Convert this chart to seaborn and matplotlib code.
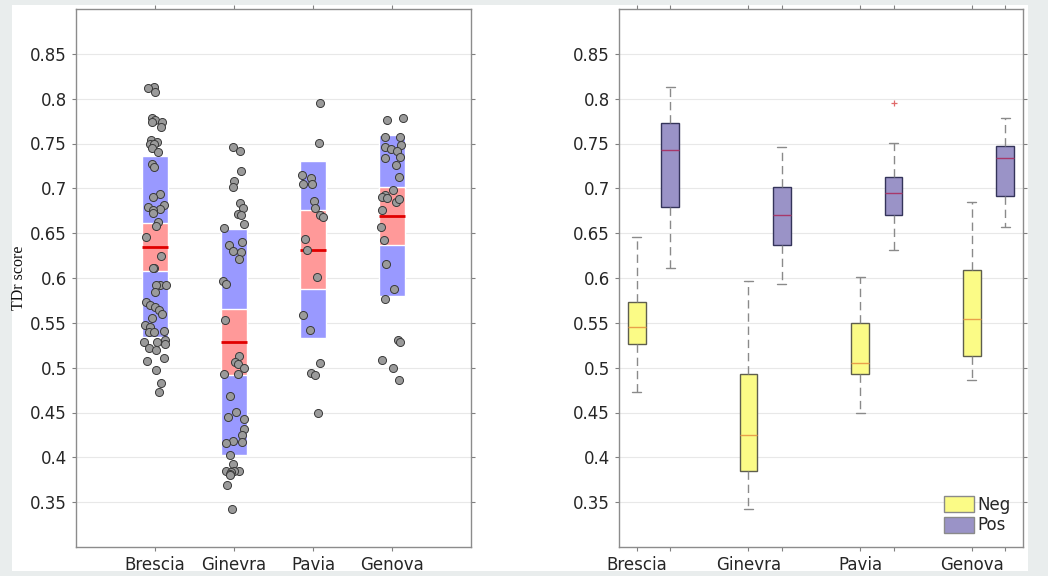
import numpy as np
import pandas as pd
import matplotlib
matplotlib.use("Agg")
import matplotlib.pyplot as plt
from matplotlib.patches import Rectangle, Patch
import seaborn as sns

# ---------------- data ----------------
cities = ["Brescia", "Ginevra", "Pavia", "Genova"]
groups = ["Neg", "Pos"]

brescia_pos = [0.8131, 0.8120, 0.8076, 0.7785, 0.7763, 0.7740, 0.7740, 0.7689, 0.7536,
               0.7520, 0.7495, 0.7495, 0.7450, 0.7406, 0.7268, 0.7242, 0.6940, 0.6903,
               0.6810, 0.6788, 0.6773, 0.6758, 0.6725, 0.6624, 0.6583, 0.6107]
brescia_neg = [0.6457, 0.6245, 0.6107, 0.5925, 0.5917, 0.5917, 0.5847, 0.5731, 0.5701,
               0.5682, 0.5645, 0.5604, 0.5556, 0.5481, 0.5448, 0.5411, 0.5396, 0.5396,
               0.5306, 0.5288, 0.5288, 0.5262, 0.5221, 0.5199, 0.5109, 0.5079, 0.4975,
               0.4826, 0.4733]
ginevra_pos = [0.7465, 0.7413, 0.7197, 0.7082, 0.7015, 0.6836, 0.6777, 0.6714, 0.6706,
               0.6602, 0.6561, 0.6401, 0.6364, 0.6300, 0.6293, 0.6211, 0.5936]
ginevra_neg = [0.5962, 0.5534, 0.5128, 0.5061, 0.5038, 0.4994, 0.4934, 0.4934, 0.4685,
               0.4503, 0.4455, 0.4425, 0.4317, 0.4246, 0.4183, 0.4168, 0.4157, 0.4026,
               0.3929, 0.3851, 0.3844, 0.3844, 0.3833, 0.3814, 0.3803, 0.3695, 0.3427]
pavia_pos = [0.7953, 0.7507, 0.7150, 0.7116, 0.7050, 0.7050, 0.6856, 0.6778, 0.6703,
             0.6684, 0.6435, 0.6309]
pavia_neg = [0.6007, 0.5583, 0.5419, 0.5055, 0.4936, 0.4921, 0.4500]
genova_pos = [0.7786, 0.7767, 0.7574, 0.7574, 0.7480, 0.7462, 0.7440, 0.7421, 0.7350,
              0.7339, 0.7265, 0.7131, 0.6986, 0.6922, 0.6905, 0.6893, 0.6885, 0.6759,
              0.6570]
genova_neg = [0.6844, 0.6428, 0.6160, 0.5877, 0.5769, 0.5312, 0.5282, 0.5081, 0.4996,
              0.4857]

y_ticks = [0.35, 0.40, 0.45, 0.50, 0.55, 0.60, 0.65, 0.70, 0.75, 0.80, 0.85]
y_label = "TDr score"

neg_values = [brescia_neg, ginevra_neg, pavia_neg, genova_neg]
pos_values = [brescia_pos, ginevra_pos, pavia_pos, genova_pos]

rows = []
for city, neg, pos in zip(cities, neg_values, pos_values):
    rows += [(city, "Neg", v) for v in neg]
    rows += [(city, "Pos", v) for v in pos]
df = pd.DataFrame(rows, columns=["city", "group", "score"])

# ---------------- styling ----------------
sns.set_style("white")
plt.rcParams["font.family"] = ["DejaVu Sans"]

NEG_COLOR = "#fbfb86"
POS_COLOR = "#9a93c7"
SD_COLOR = "#9999ff"
CI_COLOR = "#ff9999"

fig = plt.figure(figsize=(10.48, 5.76), dpi=100, facecolor="#e9eded")
fig.patches.append(Rectangle((12 / 1048, 5 / 576), 1016 / 1048, 566 / 576,
                             transform=fig.transFigure, facecolor="white",
                             edgecolor="none", zorder=-10))
ax1 = fig.add_axes([76 / 1048, 29 / 576, 395 / 1048, 538 / 576])
ax2 = fig.add_axes([619 / 1048, 29 / 576, 404 / 1048, 538 / 576])

# ---------------- left: notBoxPlot-like ----------------
stats = df.groupby("city", sort=False)["score"].agg(["mean", "std", "count"]).reindex(cities)
ci = 1.96 * stats["std"] / np.sqrt(stats["count"])
xpos = np.arange(len(cities))
bw = 0.33
ax1.bar(xpos, 2 * stats["std"], bottom=stats["mean"] - stats["std"], width=bw,
        color=SD_COLOR, zorder=1)
ax1.bar(xpos, 2 * ci, bottom=stats["mean"] - ci, width=bw, color=CI_COLOR, zorder=1.1)
ax1.hlines(stats["mean"], xpos - bw / 2, xpos + bw / 2, color="#e00000", lw=2, zorder=1.2)

np.random.seed(7)
sns.stripplot(data=df, x="city", y="score", order=cities, jitter=0.14,
              color="#9a9a9a", edgecolor="#3a3a3a", linewidth=0.7, size=5.8,
              ax=ax1, zorder=3)
ax1.set_xlim(-1, len(cities))
ax1.set_xticks(xpos)
ax1.set_xticklabels(cities)

# ---------------- right: grouped box plots ----------------
group_pos = np.arange(1, len(cities) + 1)
offset = {"Neg": 0.0, "Pos": 0.3}
df["pos"] = df["city"].map(dict(zip(cities, group_pos))) + df["group"].map(offset)

box_kw = dict(whis=1.6, orient="x", native_scale=True, width=0.16, linewidth=1,
              saturation=1, legend=False,
              whiskerprops=dict(color="#8a8a8a", linestyle=(0, (6, 3.5)), linewidth=1),
              capprops=dict(color="#8a8a8a", linewidth=1),
              flierprops=dict(marker="+", markeredgecolor="#e06a6a", markersize=5,
                              markeredgewidth=0.9))
sns.boxplot(data=df[df["group"] == "Neg"], x="pos", y="score", color=NEG_COLOR,
            linecolor="#5e5e4e", medianprops=dict(color="#e8a04a", linewidth=1),
            ax=ax2, **box_kw)
sns.boxplot(data=df[df["group"] == "Pos"], x="pos", y="score", color=POS_COLOR,
            linecolor="#34345a", medianprops=dict(color="#a8386a", linewidth=1),
            ax=ax2, **box_kw)

tick_pos = sorted(df["pos"].unique())
ax2.set_xticks(tick_pos)
ax2.set_xticklabels([cities[int(round(p)) - 1] if abs(p - round(p)) < 1e-9 else ""
                     for p in tick_pos])
ax2.set_xlim(0.84, 4.46)

ax2.legend(handles=[Patch(facecolor=NEG_COLOR, edgecolor="#8a8a8a"),
                    Patch(facecolor=POS_COLOR, edgecolor="#8a8a8a")],
           labels=groups, loc="lower right", frameon=False, fontsize=12,
           handlelength=1.8, handleheight=1.1, labelspacing=0.15,
           handletextpad=0.2, borderaxespad=0.35)

# ---------------- common axes styling ----------------
for ax in (ax1, ax2):
    ax.set_facecolor("white")
    ax.set_ylim(0.3, 0.9)
    ax.set_yticks(y_ticks)
    ax.set_yticklabels([f"{t:g}" for t in y_ticks])
    ax.grid(axis="y", color="#e8e8e8", lw=0.8)
    ax.grid(axis="x", visible=False)
    ax.set_axisbelow(True)
    ax.tick_params(direction="out", length=3, width=0.8, color="#808080",
                   labelsize=12, labelcolor="#262626",
                   top=True, right=True, bottom=True, left=True)
    for s in ax.spines.values():
        s.set_visible(True)
        s.set_color("#8c8c8c")
        s.set_linewidth(1)
    ax.set_xlabel("")
    ax.set_ylabel("")

ax1.set_ylabel(y_label, family=["Liberation Serif", "DejaVu Serif"], fontsize=11.5,
               color="#111111")
ax1.yaxis.set_label_coords(-0.124, 0.5)

fig.savefig("out.png", dpi=100, facecolor=fig.get_facecolor())
